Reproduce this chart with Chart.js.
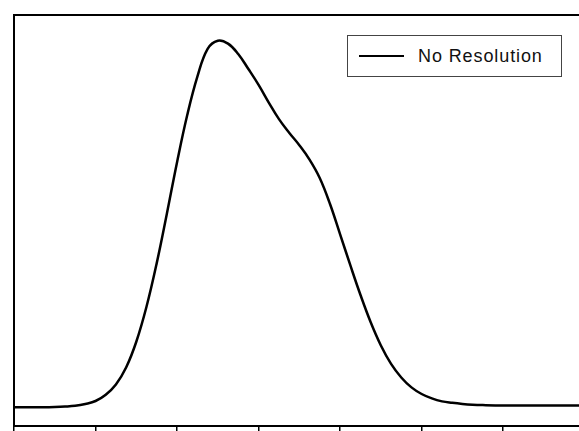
<!DOCTYPE html>
<html>
<head>
<meta charset="utf-8">
<script src="https://cdn.jsdelivr.net/npm/chart.js@4/dist/chart.umd.min.js"></script>
<style>
  body { margin: 0; background: #fff; }
  #wrap { position: relative; width: 579px; height: 431px; }
  #legend {
    position: absolute; left: 347px; top: 35px; width: 215px; height: 42px;
    border: 1px solid #444; background: #fff; box-sizing: border-box;
    display: flex; align-items: center; font-family: "Liberation Sans", Arial, sans-serif;
    font-size: 18px; letter-spacing: 0.9px; color: #111;
  }
  #legend .swatch { width: 45px; height: 0; border-top: 2.5px solid #000; margin: 0 14px 0 11px; }
</style>
</head>
<body>
<div id="wrap">
  <canvas id="chart" width="579" height="431"></canvas>
  <div id="legend"></div>
</div>
<script>
const seriesName = "No Resolution";
const xs = [0, 0.25, 0.5, 0.625, 0.75, 0.875, 1, 1.125, 1.25, 1.375, 1.5, 1.625, 1.75, 1.875, 2, 2.125, 2.25, 2.375, 2.5, 2.625,
  2.75, 2.875, 3, 3.125, 3.25, 3.375, 3.5, 3.625, 3.75, 3.875, 4, 4.125, 4.25, 4.375, 4.5, 4.625, 4.75, 4.875, 5, 5.125,
  5.25, 5.375, 5.5, 5.625, 5.75, 6, 6.5, 6.93];
const ys = [0.002, 0.002, 0.003, 0.004, 0.006, 0.011, 0.019, 0.036, 0.064, 0.11, 0.18, 0.275, 0.393, 0.528, 0.668, 0.796, 0.901, 0.976, 0.998, 0.99,
  0.962, 0.921, 0.878, 0.83, 0.785, 0.748, 0.714, 0.675, 0.625, 0.555, 0.472, 0.388, 0.307, 0.233, 0.17, 0.12, 0.083, 0.056, 0.038, 0.026,
  0.018, 0.014, 0.011, 0.009, 0.008, 0.007, 0.007, 0.007];
const xTicks = [0, 1, 2, 3, 4, 5, 6];

// frame on left, top and bottom of the plot area
const frame = {
  id: "frame",
  afterDraw(chart) {
    const { ctx, chartArea: a } = chart;
    ctx.save();
    ctx.strokeStyle = "#000";
    ctx.lineWidth = 2;
    ctx.beginPath();
    ctx.moveTo(a.right + 2, a.top);
    ctx.lineTo(a.left, a.top);
    ctx.lineTo(a.left, a.bottom);
    ctx.lineTo(a.right + 2, a.bottom);
    ctx.stroke();
    ctx.restore();
  }
};

const chart = new Chart(document.getElementById("chart"), {
  type: "line",
  data: {
    datasets: [{
      label: seriesName,
      data: xs.map((x, i) => ({ x: x, y: ys[i] })),
      borderColor: "#000",
      borderWidth: 2.5,
      pointRadius: 0,
      tension: 0.4,
      fill: false
    }]
  },
  options: {
    responsive: false,
    animation: false,
    layout: { padding: { left: 14, top: 15, right: 0, bottom: 0 } },
    plugins: { legend: { display: false }, tooltip: { enabled: false } },
    scales: {
      x: {
        type: "linear",
        min: 0,
        max: 6.93,
        afterBuildTicks: s => { s.ticks = xTicks.map(v => ({ value: v })); },
        ticks: { display: false },
        grid: { drawOnChartArea: false, drawTicks: true, tickLength: 5, color: "#000", lineWidth: 1.5 },
        border: { display: false }
      },
      y: {
        display: false,
        min: -0.0489,
        max: 1.0679
      }
    }
  },
  plugins: [frame]
});

const legend = document.getElementById("legend");
chart.data.datasets.forEach(ds => {
  legend.innerHTML = '<span class="swatch"></span><span>' + ds.label + '</span>';
});
</script>
</body>
</html>
